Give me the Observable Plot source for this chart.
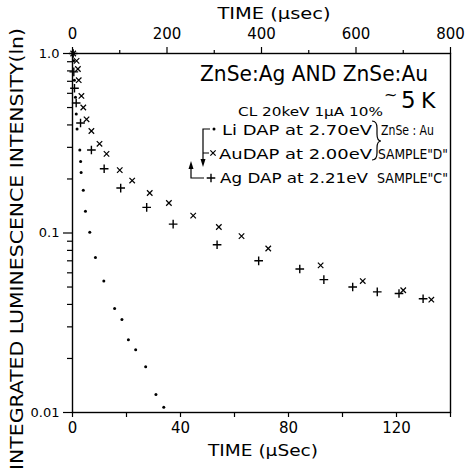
<!DOCTYPE html>
<html><head><meta charset="utf-8">
<script src="https://cdn.jsdelivr.net/npm/d3@7"></script>
<script src="https://cdn.jsdelivr.net/npm/@observablehq/plot@0.6"></script>
<style>
body{margin:0;background:#fff;}
#wrap{position:relative;width:469px;height:470px;overflow:hidden;background:#fff;}
#wrap svg{position:absolute;left:0;top:0;}
</style></head><body><div id="wrap"></div>
<script>
// ---- Data ----
// Li DAP at 2.70 eV (ZnSe:Au sample "D"), bottom time axis (µs)
const liTime = [0.4, 0.7, 1.1, 1.4, 1.7, 2.7, 3.0, 3.2, 4.0, 4.8, 6.4, 8.5, 11.6, 15.6, 18.3, 20.7, 23.4, 27.1, 30.9, 33.8];
const liIntensity = [0.91, 0.71, 0.57, 0.46, 0.38, 0.29, 0.25, 0.217, 0.173, 0.132, 0.101, 0.073, 0.054, 0.038, 0.033, 0.0254, 0.0224, 0.018, 0.0126, 0.0107];
// Au DAP at 2.00 eV (ZnSe:Au sample "D"), bottom time axis (µs)
const auTime = [0.26, 1.5, 2.0, 2.3, 3.3, 4.0, 5.2, 7.0, 10.0, 12.6, 17.5, 22.1, 28.6, 35.7, 44.7, 54.2, 62.6, 72.5, 91.9, 107.5, 122.5, 132.9];
const auIntensity = [1.0, 0.91, 0.82, 0.71, 0.58, 0.50, 0.43, 0.37, 0.314, 0.276, 0.224, 0.196, 0.167, 0.147, 0.125, 0.108, 0.096, 0.082, 0.066, 0.054, 0.048, 0.0425];
// Ag DAP at 2.21 eV (sample "C"), top time axis (µs)
const agTime = [1.5, 2.8, 4.2, 7.8, 17, 40, 67, 102, 157, 213, 306, 394, 481, 532, 593, 645, 691, 742];
const agIntensity = [1.0, 0.79, 0.64, 0.53, 0.41, 0.29, 0.228, 0.178, 0.139, 0.112, 0.086, 0.070, 0.063, 0.055, 0.050, 0.047, 0.046, 0.043];

// ---- Ticks ----
const bottomTicks = [0, 40, 80, 120];
const bottomMinorTicks = [20, 60, 100, 140];
const topTicks = [0, 200, 400, 600, 800];
const topMinorTicks = [100, 300, 500, 700];
const yTickValues = [1, 0.1, 0.01];
const yTickLabels = ["1.0", "0.1", "0.01"];
const yMinorTicks = [0.02, 0.03, 0.04, 0.05, 0.06, 0.07, 0.08, 0.09, 0.2, 0.3, 0.4, 0.5, 0.6, 0.7, 0.8, 0.9];

const li = liTime.map((t, i) => ({t, v: liIntensity[i]}));
const au = auTime.map((t, i) => ({t, v: auIntensity[i]}));
const ag = agTime.map((t, i) => ({t, v: agIntensity[i]}));

const FONT = "'DejaVu Sans', sans-serif";
const W = 469, H = 470;
const M = {marginLeft: 72, marginRight: 19, marginTop: 53, marginBottom: 58};

// ---- Annotation texts ----
const annotations = [
  {text: "TIME (μsec)", x: 274, y: 13, size: 16, len: 113, anchor: "middle"},
  {text: "TIME (μSec)", x: 263, y: 450, size: 16, len: 110, anchor: "middle"},
  {text: "ZnSe:Ag AND ZnSe:Au", x: 200, y: 73, size: 22, len: 228},
  {text: "~", x: 384, y: 94, size: 16},
  {text: "5", x: 401, y: 100, size: 23},
  {text: "K", x: 421, y: 100, size: 22},
  {text: "CL 20keV 1μA 10%", x: 238, y: 112, size: 12.5, len: 145},
  {text: "Li DAP at 2.70eV", x: 222, y: 130, size: 13.5, len: 150},
  {text: "ZnSe : Au", x: 381, y: 130, size: 13.5, len: 53},
  {text: "AuDAP at 2.00eV", x: 219, y: 154, size: 13.5, len: 153},
  {text: "SAMPLE\"D\"", x: 378, y: 154, size: 13.5, len: 70},
  {text: "Ag DAP at 2.21eV", x: 220, y: 178, size: 13.5, len: 148},
  {text: "SAMPLE\"C\"", x: 377, y: 178, size: 13.5, len: 71}
];
const yLabel = {text: "INTEGRATED LUMINESCENCE INTENSITY(ln)", x: 17, y: 249, size: 18, len: 442};

function decorations() {
  return () => {
    const g = d3.create("svg:g").attr("font-family", FONT).attr("fill", "black");
    for (const a of annotations) {
      const t = g.append("text").attr("x", a.x).attr("y", a.y).attr("dy", "0.35em")
        .attr("font-size", a.size).attr("text-anchor", a.anchor || "start").text(a.text);
      if (a.len) t.attr("textLength", a.len).attr("lengthAdjust", "spacingAndGlyphs");
    }
    g.append("text").attr("transform", `translate(${yLabel.x},${yLabel.y}) rotate(-90)`)
      .attr("dy", "0.35em").attr("text-anchor", "middle").attr("font-size", yLabel.size)
      .attr("textLength", yLabel.len).attr("lengthAdjust", "spacingAndGlyphs").text(yLabel.text);
    const p = g.append("g").attr("fill", "none").attr("stroke", "black").attr("stroke-width", 1.2);
    // bracket + down arrow (Li, Au -> bottom axis)
    p.append("path").attr("d", "M210,129H203V160M203,153H209");
    g.append("path").attr("d", "M203,167L200.5,159L205.5,159Z");
    // up arrow (Ag -> top axis)
    p.append("path").attr("d", "M204,178H191V168");
    g.append("path").attr("d", "M191,161L188.5,169L193.5,169Z");
    // brace joining Li and Au lines
    p.append("path").attr("d", "M372,121Q377,121 377,128V134Q377,141 381,141Q377,141 377,148V153Q377,160 372,160");
    // legend symbols
    g.append("circle").attr("cx", 214).attr("cy", 129).attr("r", 1.5);
    g.append("path").attr("transform", "translate(213,153)").attr("fill", "none").attr("stroke", "black").attr("stroke-width", 1.2)
      .attr("d", d3.symbol(d3.symbolTimes, 20)());
    g.append("path").attr("transform", "translate(211,178)").attr("fill", "none").attr("stroke", "black").attr("stroke-width", 1.4)
      .attr("d", d3.symbol(d3.symbolPlus, 26)());
    return g.node();
  };
}

const chartA = Plot.plot({
  width: W, height: H, ...M,
  style: {fontFamily: FONT, background: "transparent", color: "black"},
  x: {domain: [0, 140]},
  y: {type: "log", domain: [0.01, 1]},
  marks: [
    Plot.frame({stroke: "black", strokeWidth: 1.4}),
    Plot.axisX({anchor: "bottom", ticks: bottomMinorTicks, tickSize: 5, tickFormat: () => "", label: null, strokeWidth: 1.2}),
    Plot.axisX({anchor: "bottom", ticks: bottomTicks, tickSize: 5, tickPadding: 5, fontSize: 15, label: null, strokeWidth: 1.2}),
    Plot.axisY({anchor: "left", ticks: yTickValues, tickSize: 9, tickPadding: 4, fontSize: 13,
      tickFormat: d => yTickLabels[yTickValues.indexOf(d)], label: null, strokeWidth: 1.2}),
    Plot.axisY({anchor: "left", ticks: yMinorTicks, tickSize: 5, tickFormat: () => "", label: null, strokeWidth: 1.2}),
    Plot.dot(li, {x: "t", y: "v", r: 1.5, fill: "black"}),
    Plot.dot(au, {x: "t", y: "v", symbol: "times", r: 2.6, stroke: "black", strokeWidth: 1.2}),
    decorations()
  ]
});

const chartB = Plot.plot({
  width: W, height: H, ...M,
  style: {fontFamily: FONT, background: "transparent", color: "black"},
  x: {domain: [0, 800]},
  y: {type: "log", domain: [0.01, 1], axis: null},
  marks: [
    Plot.axisX({anchor: "top", ticks: topMinorTicks, tickSize: 4, tickFormat: () => "", label: null, strokeWidth: 1.2}),
    Plot.axisX({anchor: "top", ticks: topTicks, tickSize: 7, tickPadding: 8, fontSize: 15, label: null, strokeWidth: 1.2}),
    Plot.dot(ag, {x: "t", y: "v", symbol: "plus", r: 2.9, stroke: "black", strokeWidth: 1.4})
  ]
});

const wrap = document.getElementById("wrap");
wrap.append(chartA, chartB);
</script>
</body></html>
